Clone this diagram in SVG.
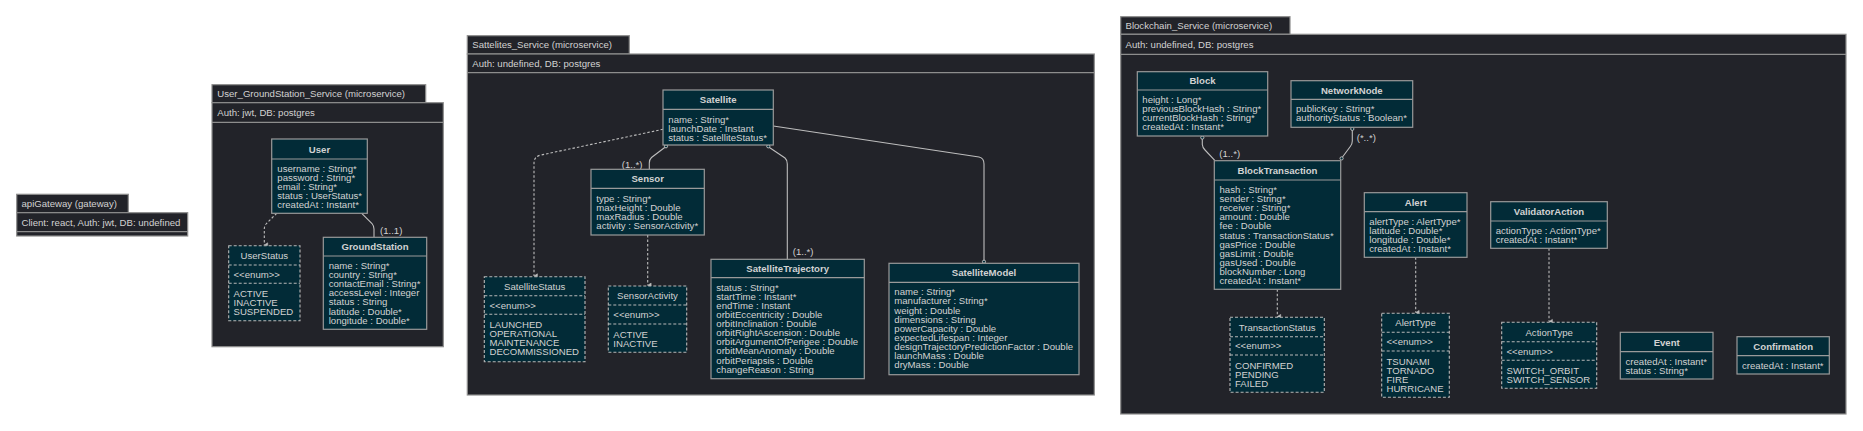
<svg xmlns="http://www.w3.org/2000/svg" width="1863" height="431" viewBox="0 0 1863 431">
<defs>
<style>
text{font-family:"Liberation Sans",Arial,sans-serif;font-size:9.6px;fill:#d2d2d2}
.frame{fill:#222329;stroke:#8d8d8d;stroke-width:1.2}
.cls{fill:#022b37;stroke:#9a9a9a;stroke-width:1.2}
.enum{fill:#022b37;stroke:#b8b8b8;stroke-width:1.1;stroke-dasharray:3 2}
.div{stroke:#9a9a9a;stroke-width:1.2}
.ediv{stroke:#b8b8b8;stroke-width:1.1;stroke-dasharray:3 2}
.t{font-weight:bold;text-anchor:middle}
.c{text-anchor:middle}
.con{fill:none;stroke:#bdbdbd;stroke-width:1.1}
.dep{fill:none;stroke:#bdbdbd;stroke-width:1.1;stroke-dasharray:2.5 2}
.dot{fill:#022b37;stroke:#bdbdbd;stroke-width:1}
</style>
<marker id="arr" viewBox="0 0 8 8" refX="4" refY="7" markerWidth="8" markerHeight="8" orient="auto-start-reverse" markerUnits="userSpaceOnUse">
<path d="M1.8,3.6 L6.2,3.6 L4,7 Z" fill="#bdbdbd" stroke="#bdbdbd" stroke-width="0.6"/>
</marker>
</defs>
<rect width="1863" height="431" fill="#ffffff"/>

<!-- apiGateway -->
<g id="apiGateway">
<rect class="frame" x="16.7" y="194.3" width="111.6" height="18.4"/>
<text x="21.5" y="207">apiGateway (gateway)</text>
<rect class="frame" x="16.7" y="212.7" width="171" height="23.3"/>
<line x1="16.7" y1="231.7" x2="187.7" y2="231.7" stroke="#8d8d8d" stroke-width="1.2"/>
<text x="21.5" y="225.8">Client: react, Auth: jwt, DB: undefined</text>
</g>

<!-- User_GroundStation frame -->
<g id="User_GroundStation_Service">
<rect class="frame" x="212" y="84.7" width="213.7" height="18"/>
<text x="217.3" y="97.2">User_GroundStation_Service (microservice)</text>
<rect class="frame" x="212" y="102.7" width="231.3" height="244"/>
<line x1="212" y1="122.3" x2="443.3" y2="122.3" stroke="#8d8d8d" stroke-width="1.2"/>
<text x="217.3" y="115.8">Auth: jwt, DB: postgres</text>
</g>

<!-- Sattelites frame -->
<g id="Sattelites_Service">
<rect class="frame" x="467.3" y="35.7" width="162" height="18.3"/>
<text x="472.3" y="48.3">Sattelites_Service (microservice)</text>
<rect class="frame" x="467.3" y="54" width="627" height="341"/>
<line x1="467.3" y1="72.7" x2="1094.3" y2="72.7" stroke="#8d8d8d" stroke-width="1.2"/>
<text x="472.3" y="66.8">Auth: undefined, DB: postgres</text>
</g>

<!-- Blockchain frame -->
<g id="Blockchain_Service">
<rect class="frame" x="1120.7" y="16.7" width="169.3" height="17.6"/>
<text x="1125.5" y="29">Blockchain_Service (microservice)</text>
<rect class="frame" x="1120.7" y="34.3" width="725.3" height="379.7"/>
<line x1="1120.7" y1="54.3" x2="1846" y2="54.3" stroke="#8d8d8d" stroke-width="1.2"/>
<text x="1125.5" y="47.8">Auth: undefined, DB: postgres</text>
</g>

<!-- Connectors -->
<g id="connectors">
<path class="dep" d="M276.7,213.3 L266.5,223.5 Q264.3,226 264.3,229 L264.3,245" marker-end="url(#arr)"/>
<path class="con" d="M361.7,213.3 L372,223.5 Q374,226 374,229 L374,237.3"/>
<text x="380" y="234.2">(1..1)</text>

<path class="dep" d="M663,129.3 L541,155 Q534,156.5 534,163 L534,276" marker-end="url(#arr)"/>
<path class="con" d="M666,146.5 L651.5,157.5 Q649.3,159.5 649.3,163 L649.3,169.3"/>
<circle class="dot" cx="666" cy="146.3" r="1.6"/>
<text x="621.7" y="167.8">(1..*)</text>
<path class="dep" d="M647.7,235 L647.7,285.3" marker-end="url(#arr)"/>
<path class="con" d="M768.3,146.7 L785,158 Q787.3,160 787.3,164 L787.3,259.3"/>
<circle class="dot" cx="768.3" cy="146.3" r="1.6"/>
<text x="792.7" y="255">(1..*)</text>
<path class="con" d="M773.3,126 L979,157 Q984,158 984,164 L984,261"/>
<circle class="dot" cx="984" cy="261.7" r="1.6"/>

<path class="con" d="M1202.3,137.6 L1202.3,144.5 Q1202.5,147.5 1205,150 L1215,160.7"/>
<circle class="dot" cx="1202.3" cy="137.6" r="1.6"/>
<text x="1219.3" y="157.3">(1..*)</text>
<path class="con" d="M1352.3,129 L1352.3,141 Q1352.3,144 1350.3,146.5 L1342.5,157"/>
<circle class="dot" cx="1352.3" cy="128.9" r="1.6"/>
<circle class="dot" cx="1341.6" cy="158.4" r="1.6"/>
<text x="1356.7" y="141">(*..*)</text>
<path class="dep" d="M1277.3,289.3 L1277.3,316.6" marker-end="url(#arr)"/>
<path class="dep" d="M1415.7,257.3 L1415.7,312.6" marker-end="url(#arr)"/>
<path class="dep" d="M1549,248.3 L1549,321.6" marker-end="url(#arr)"/>
</g>

<!-- User -->
<g id="User">
<rect class="cls" x="271.7" y="139" width="95.6" height="74.3"/>
<line class="div" x1="271.7" y1="159" x2="367.3" y2="159"/>
<text class="t" x="319.5" y="152.5">User</text>
<text x="277.3" y="172">username : String*</text>
<text x="277.3" y="181.1">password : String*</text>
<text x="277.3" y="190.2">email : String*</text>
<text x="277.3" y="199.3">status : UserStatus*</text>
<text x="277.3" y="208.4">createdAt : Instant*</text>
</g>

<g id="UserStatus">
<rect class="enum" x="228.7" y="245.7" width="71.3" height="75"/>
<line class="ediv" x1="228.7" y1="265" x2="300" y2="265"/>
<line class="ediv" x1="228.7" y1="283.3" x2="300" y2="283.3"/>
<text class="c" x="264.3" y="258.8">UserStatus</text>
<text x="233.5" y="277.6">&lt;&lt;enum&gt;&gt;</text>
<text x="233.5" y="296.8">ACTIVE</text>
<text x="233.5" y="305.9">INACTIVE</text>
<text x="233.5" y="315">SUSPENDED</text>
</g>

<g id="GroundStation">
<rect class="cls" x="323.3" y="237.3" width="103.4" height="92"/>
<line class="div" x1="323.3" y1="256" x2="426.7" y2="256"/>
<text class="t" x="375" y="250.1">GroundStation</text>
<text x="328.7" y="269">name : String*</text>
<text x="328.7" y="278.1">country : String*</text>
<text x="328.7" y="287.2">contactEmail : String*</text>
<text x="328.7" y="296.3">accessLevel : Integer</text>
<text x="328.7" y="305.4">status : String</text>
<text x="328.7" y="314.5">latitude : Double*</text>
<text x="328.7" y="323.6">longitude : Double*</text>
</g>

<!-- Satellites -->
<g id="Satellite">
<rect class="cls" x="663" y="90" width="110.3" height="55"/>
<line class="div" x1="663" y1="109.3" x2="773.3" y2="109.3"/>
<text class="t" x="718.2" y="103">Satellite</text>
<text x="668.3" y="122.6">name : String*</text>
<text x="668.3" y="131.7">launchDate : Instant</text>
<text x="668.3" y="140.8">status : SatelliteStatus*</text>
</g>

<g id="Sensor">
<rect class="cls" x="591" y="169.3" width="113.3" height="65.7"/>
<line class="div" x1="591" y1="188.3" x2="704.3" y2="188.3"/>
<text class="t" x="647.7" y="182.3">Sensor</text>
<text x="596.3" y="201.5">type : String*</text>
<text x="596.3" y="210.6">maxHeight : Double</text>
<text x="596.3" y="219.7">maxRadius : Double</text>
<text x="596.3" y="228.8">activity : SensorActivity*</text>
</g>

<g id="SatelliteStatus">
<rect class="enum" x="484.3" y="276.7" width="100.7" height="85"/>
<line class="ediv" x1="484.3" y1="295.7" x2="585" y2="295.7"/>
<line class="ediv" x1="484.3" y1="314.3" x2="585" y2="314.3"/>
<text class="c" x="534.7" y="289.7">SatelliteStatus</text>
<text x="489.5" y="308.5">&lt;&lt;enum&gt;&gt;</text>
<text x="489.5" y="327.8">LAUNCHED</text>
<text x="489.5" y="336.9">OPERATIONAL</text>
<text x="489.5" y="346">MAINTENANCE</text>
<text x="489.5" y="355.1">DECOMMISSIONED</text>
</g>

<g id="SensorActivity">
<rect class="enum" x="608.3" y="286" width="78.4" height="66.3"/>
<line class="ediv" x1="608.3" y1="305" x2="686.7" y2="305"/>
<line class="ediv" x1="608.3" y1="324" x2="686.7" y2="324"/>
<text class="c" x="647.5" y="299">SensorActivity</text>
<text x="613.3" y="318">&lt;&lt;enum&gt;&gt;</text>
<text x="613.3" y="337.5">ACTIVE</text>
<text x="613.3" y="346.6">INACTIVE</text>
</g>

<g id="SatelliteTrajectory">
<rect class="cls" x="711" y="259.3" width="153.3" height="119.4"/>
<line class="div" x1="711" y1="277.7" x2="864.3" y2="277.7"/>
<text class="t" x="787.7" y="272">SatelliteTrajectory</text>
<text x="716.3" y="290.7">status : String*</text>
<text x="716.3" y="299.8">startTime : Instant*</text>
<text x="716.3" y="308.9">endTime : Instant</text>
<text x="716.3" y="318">orbitEccentricity : Double</text>
<text x="716.3" y="327.1">orbitInclination : Double</text>
<text x="716.3" y="336.2">orbitRightAscension : Double</text>
<text x="716.3" y="345.3">orbitArgumentOfPerigee : Double</text>
<text x="716.3" y="354.4">orbitMeanAnomaly : Double</text>
<text x="716.3" y="363.5">orbitPeriapsis : Double</text>
<text x="716.3" y="372.6">changeReason : String</text>
</g>

<g id="SatelliteModel">
<rect class="cls" x="889" y="263.3" width="190" height="111.4"/>
<line class="div" x1="889" y1="282.3" x2="1079" y2="282.3"/>
<text class="t" x="984" y="276.3">SatelliteModel</text>
<text x="894.3" y="295.3">name : String*</text>
<text x="894.3" y="304.4">manufacturer : String*</text>
<text x="894.3" y="313.5">weight : Double</text>
<text x="894.3" y="322.6">dimensions : String</text>
<text x="894.3" y="331.7">powerCapacity : Double</text>
<text x="894.3" y="340.8">expectedLifespan : Integer</text>
<text x="894.3" y="349.9">designTrajectoryPredictionFactor : Double</text>
<text x="894.3" y="359">launchMass : Double</text>
<text x="894.3" y="368.1">dryMass : Double</text>
</g>

<!-- Blockchain -->
<g id="Block">
<rect class="cls" x="1137.3" y="71.7" width="130.4" height="64.3"/>
<line class="div" x1="1137.3" y1="90" x2="1267.7" y2="90"/>
<text class="t" x="1202.5" y="84.3">Block</text>
<text x="1142.3" y="103">height : Long*</text>
<text x="1142.3" y="112.1">previousBlockHash : String*</text>
<text x="1142.3" y="121.2">currentBlockHash : String*</text>
<text x="1142.3" y="130.3">createdAt : Instant*</text>
</g>

<g id="NetworkNode">
<rect class="cls" x="1291" y="80.7" width="121.7" height="46.6"/>
<line class="div" x1="1291" y1="99.3" x2="1412.7" y2="99.3"/>
<text class="t" x="1351.8" y="93.5">NetworkNode</text>
<text x="1296" y="112.3">publicKey : String*</text>
<text x="1296" y="121.4">authorityStatus : Boolean*</text>
</g>

<g id="BlockTransaction">
<rect class="cls" x="1214.3" y="160.7" width="126.4" height="128.6"/>
<line class="div" x1="1214.3" y1="180" x2="1340.7" y2="180"/>
<text class="t" x="1277.5" y="173.8">BlockTransaction</text>
<text x="1219.5" y="193">hash : String*</text>
<text x="1219.5" y="202.1">sender : String*</text>
<text x="1219.5" y="211.2">receiver : String*</text>
<text x="1219.5" y="220.3">amount : Double</text>
<text x="1219.5" y="229.4">fee : Double</text>
<text x="1219.5" y="238.5">status : TransactionStatus*</text>
<text x="1219.5" y="247.6">gasPrice : Double</text>
<text x="1219.5" y="256.7">gasLimit : Double</text>
<text x="1219.5" y="265.8">gasUsed : Double</text>
<text x="1219.5" y="274.9">blockNumber : Long</text>
<text x="1219.5" y="284">createdAt : Instant*</text>
</g>

<g id="Alert">
<rect class="cls" x="1364.3" y="192.7" width="102.7" height="64.6"/>
<line class="div" x1="1364.3" y1="211.7" x2="1467" y2="211.7"/>
<text class="t" x="1415.7" y="205.7">Alert</text>
<text x="1369.3" y="224.7">alertType : AlertType*</text>
<text x="1369.3" y="233.8">latitude : Double*</text>
<text x="1369.3" y="242.9">longitude : Double*</text>
<text x="1369.3" y="252">createdAt : Instant*</text>
</g>

<g id="ValidatorAction">
<rect class="cls" x="1490.7" y="201.7" width="116.6" height="46.6"/>
<line class="div" x1="1490.7" y1="221" x2="1607.3" y2="221"/>
<text class="t" x="1549" y="214.8">ValidatorAction</text>
<text x="1495.7" y="234">actionType : ActionType*</text>
<text x="1495.7" y="243.1">createdAt : Instant*</text>
</g>

<g id="TransactionStatus">
<rect class="enum" x="1230" y="317.3" width="94.3" height="75"/>
<line class="ediv" x1="1230" y1="336.7" x2="1324.3" y2="336.7"/>
<line class="ediv" x1="1230" y1="355" x2="1324.3" y2="355"/>
<text class="c" x="1277.2" y="330.5">TransactionStatus</text>
<text x="1235" y="349.3">&lt;&lt;enum&gt;&gt;</text>
<text x="1235" y="368.5">CONFIRMED</text>
<text x="1235" y="377.6">PENDING</text>
<text x="1235" y="386.7">FAILED</text>
</g>

<g id="AlertType">
<rect class="enum" x="1381.7" y="313.3" width="67.6" height="84"/>
<line class="ediv" x1="1381.7" y1="332.3" x2="1449.3" y2="332.3"/>
<line class="ediv" x1="1381.7" y1="351" x2="1449.3" y2="351"/>
<text class="c" x="1415.5" y="326.3">AlertType</text>
<text x="1386.5" y="345">&lt;&lt;enum&gt;&gt;</text>
<text x="1386.5" y="364.5">TSUNAMI</text>
<text x="1386.5" y="373.6">TORNADO</text>
<text x="1386.5" y="382.7">FIRE</text>
<text x="1386.5" y="391.8">HURRICANE</text>
</g>

<g id="ActionType">
<rect class="enum" x="1501.7" y="322.3" width="95" height="66"/>
<line class="ediv" x1="1501.7" y1="341.7" x2="1596.7" y2="341.7"/>
<line class="ediv" x1="1501.7" y1="360.3" x2="1596.7" y2="360.3"/>
<text class="c" x="1549.2" y="335.5">ActionType</text>
<text x="1506.5" y="354.5">&lt;&lt;enum&gt;&gt;</text>
<text x="1506.5" y="373.8">SWITCH_ORBIT</text>
<text x="1506.5" y="382.9">SWITCH_SENSOR</text>
</g>

<g id="Event">
<rect class="cls" x="1620.3" y="332.3" width="92.7" height="46.7"/>
<line class="div" x1="1620.3" y1="351.7" x2="1713" y2="351.7"/>
<text class="t" x="1666.7" y="345.5">Event</text>
<text x="1625.5" y="364.5">createdAt : Instant*</text>
<text x="1625.5" y="373.6">status : String*</text>
</g>

<g id="Confirmation">
<rect class="cls" x="1737" y="336.7" width="92.3" height="37.3"/>
<line class="div" x1="1737" y1="355.7" x2="1829.3" y2="355.7"/>
<text class="t" x="1783.2" y="349.7">Confirmation</text>
<text x="1742" y="368.5">createdAt : Instant*</text>
</g>
</svg>
